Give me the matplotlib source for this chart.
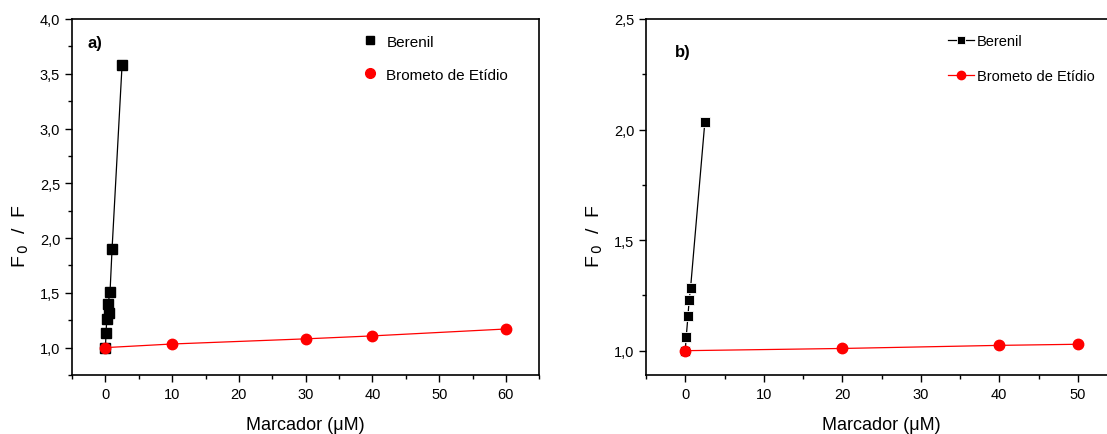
import matplotlib
matplotlib.use('Agg')
import matplotlib.pyplot as plt
from matplotlib.ticker import MultipleLocator, FuncFormatter
from matplotlib.lines import Line2D

plt.rcParams['font.family'] = ['Liberation Sans', 'DejaVu Sans']

# panel a) data
a_ber_x = [0, 0.1, 0.2, 0.5, 0.4, 0.7, 1.0, 2.5]
a_ber_y = [1.0, 1.13, 1.26, 1.32, 1.40, 1.51, 1.90, 3.58]
a_bro_x = [0, 10, 30, 40, 60]
a_bro_y = [1.0, 1.033, 1.08, 1.107, 1.17]

# panel b) data
b_ber_x = [0, 0.12, 0.34, 0.5, 0.68, 2.5]
b_ber_y = [1.0, 1.06, 1.155, 1.23, 1.285, 2.035]
b_bro_x = [0, 20, 40, 50]
b_bro_y = [1.0, 1.01, 1.024, 1.029]

labels = ['Berenil', 'Brometo de Etídio']

comma = FuncFormatter(lambda v, p: ('%.1f' % v).replace('.', ','))

fig = plt.figure(figsize=(11.07, 4.35), dpi=100)
ax1 = fig.add_axes([72 / 1107, 59 / 435, 467.3 / 1107, 356 / 435])
ax2 = fig.add_axes([646 / 1107, 59 / 435, 471 / 1107, 356 / 435])


def style(ax, xmax, ymin, ymax, xmaxtick):
    ax.set_xlim(-5, xmax)
    ax.set_ylim(ymin, ymax)
    ax.xaxis.set_major_locator(MultipleLocator(10))
    ax.xaxis.set_minor_locator(MultipleLocator(5))
    ax.yaxis.set_major_locator(MultipleLocator(0.5))
    ax.yaxis.set_minor_locator(MultipleLocator(0.25))
    ax.yaxis.set_major_formatter(comma)
    ax.xaxis.set_major_formatter(FuncFormatter(
        lambda v, p: '%d' % v if 0 <= v <= xmaxtick else ''))
    ax.tick_params(which='major', direction='out', length=5, width=1,
                   labelsize=10.5, colors='black')
    ax.tick_params(which='minor', direction='out', length=3, width=1)
    for s in ax.spines.values():
        s.set_linewidth(1.2)
    ax.set_xlabel('Marcador (\u03bcM)', fontsize=13, labelpad=11)
    ax.set_ylabel(r'F$_{\,0}$  /  F', fontsize=14)
    ax.yaxis.set_label_coords(-0.088, 0.393)


# panel a
ax1.plot(a_ber_x, a_ber_y, color='black', lw=0.9, marker='s', ms=6.5)
ax1.plot(a_bro_x, a_bro_y, color='red', lw=0.9, marker='o', ms=7.5)
style(ax1, 65, 0.75, 4.0, 60)
ax1.text(0.033, 0.935, 'a)', transform=ax1.transAxes, fontsize=12,
         fontweight='bold', va='center')
h1 = [Line2D([], [], color='black', ls='none', marker='s', ms=6),
      Line2D([], [], color='red', ls='none', marker='o', ms=7)]
ax1.legend(h1, labels, loc='upper left', bbox_to_anchor=(0.591, 0.995),
           frameon=False, fontsize=11, handlelength=1.0, handletextpad=0.6,
           labelspacing=1.25)

# panel b
ax2.plot(b_ber_x, b_ber_y, color='black', lw=0.9, marker='s', ms=6.5,
         mec='white', mew=0.6)
ax2.plot(b_bro_x, b_bro_y, color='red', lw=0.9, marker='o', ms=7.5)
style(ax2, 55, 0.89, 2.5, 50)
ax2.text(0.062, 0.91, 'b)', transform=ax2.transAxes, fontsize=12,
         fontweight='bold', va='center')
ax2.legend(labels, loc='upper left', bbox_to_anchor=(0.613, 0.995),
           frameon=False, fontsize=10.5, handlelength=1.8, handletextpad=0.2,
           labelspacing=1.45, markerscale=0.8)

fig.savefig('out.png', dpi=100)
